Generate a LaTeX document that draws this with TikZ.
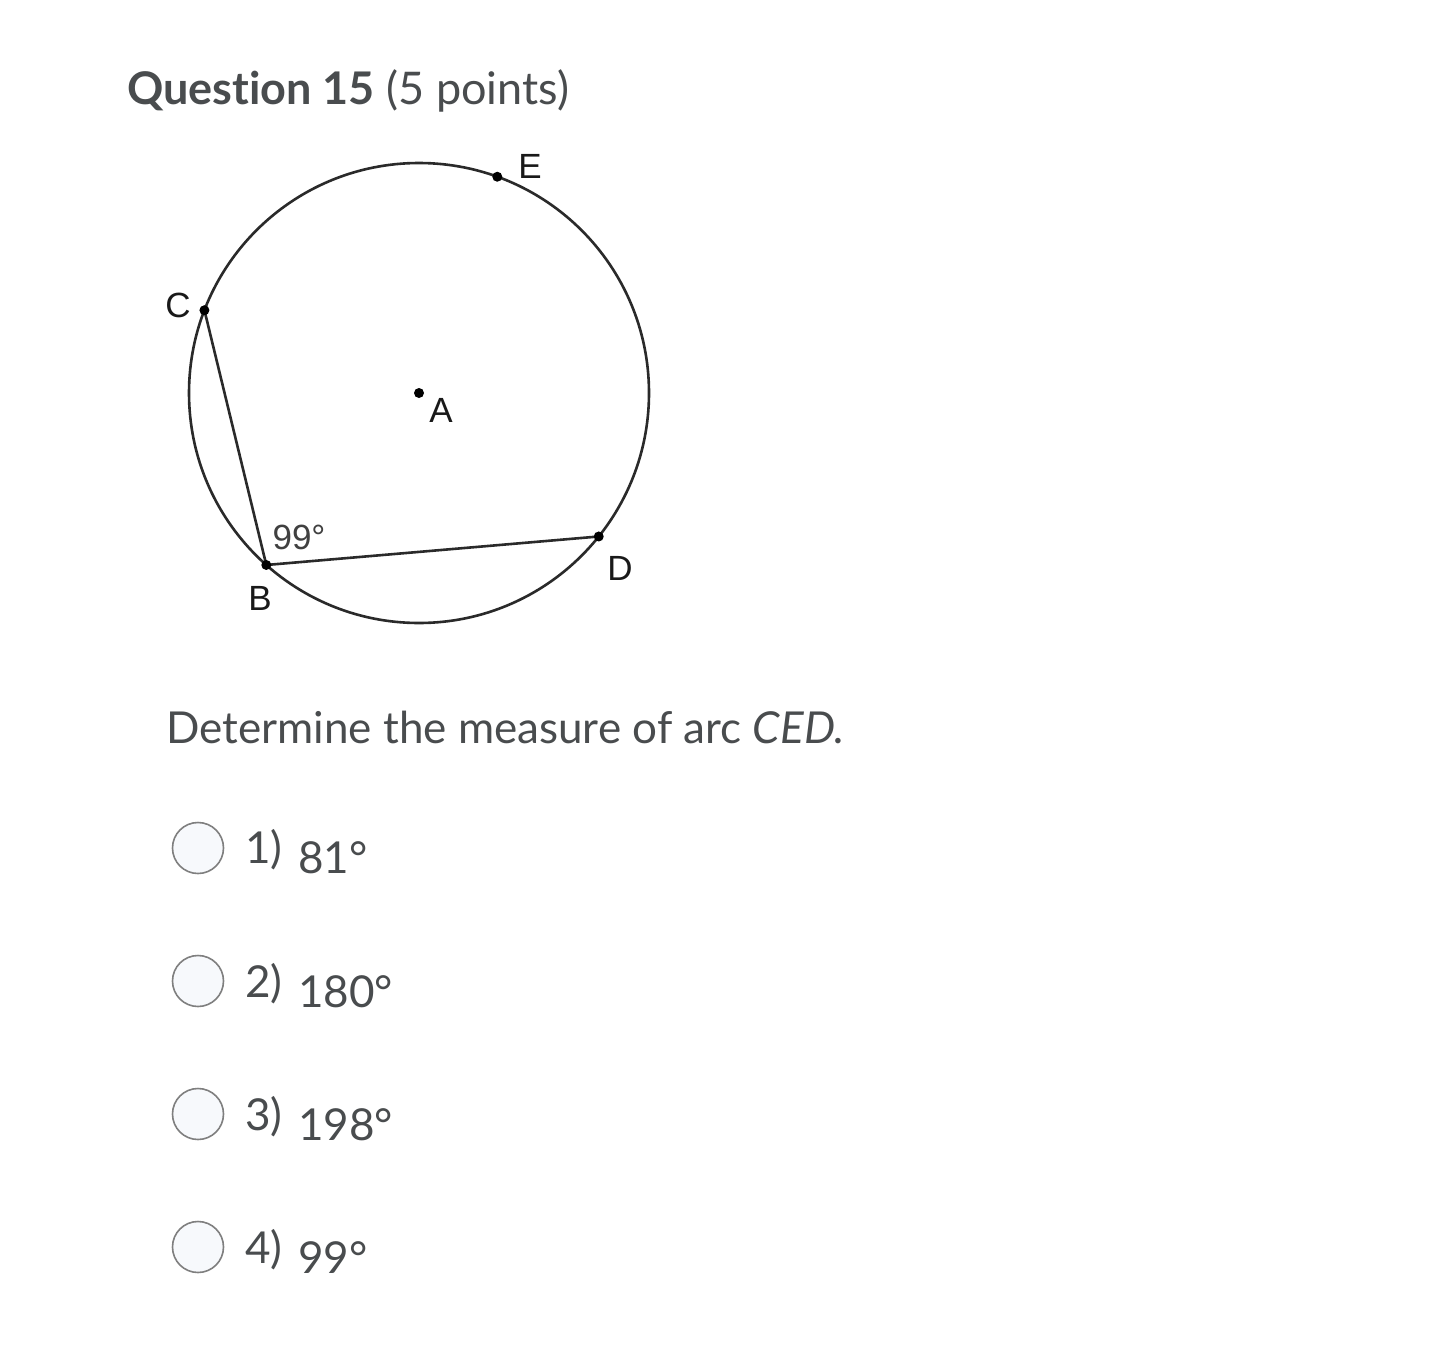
\documentclass[tikz,border=0pt]{standalone}
\usepackage{fontspec}
\setmainfont[Ligatures={NoCommon}]{Lato}
\newfontfamily\labelfont{Liberation Sans}
\definecolor{txt}{HTML}{494C4E}
\definecolor{radioedge}{HTML}{7F7F7F}
\definecolor{radiofill}{HTML}{F7F9FC}
\definecolor{geo}{HTML}{2A2A2A}
\begin{document}
\begin{tikzpicture}[x=1pt,y=-1pt,
  qtext/.style={inner sep=0pt,anchor=base west,text=txt,font=\fontsize{44}{52}\selectfont},
  glabel/.style={inner sep=0pt,anchor=base,text=black!90,font=\labelfont\fontsize{35}{42}\selectfont},
  gdot/.style={circle,fill=black,inner sep=0pt,minimum size=10pt},
  radio/.style={circle,draw=radioedge,fill=radiofill,line width=1.6pt,inner sep=0pt,minimum size=51pt},
  geoline/.style={draw=geo,line width=2.6pt}
]
\useasboundingbox[fill=white] (0,0) rectangle (1442,1346);

% title
\node[qtext,font=\fontsize{45}{54}\selectfont] (title) at (127,104) {\textbf{Question 15} (5 points)};

% geometry
\coordinate (A) at (419,393);
\draw[geoline] (A) circle (230);
\path (A) ++(-70.1:230) coordinate (E);
\path (A) ++(-158.9:230) coordinate (C);
\path (A) ++(-228.4:230) coordinate (B);
\path (A) ++(-321.4:230) coordinate (D);
\draw[geoline] (C) -- (B) -- (D);
\node[gdot] (dA) at (A) {};
\node[gdot] (dE) at (E) {};
\node[gdot] (dC) at (C) {};
\node[gdot] (dB) at (B) {};
\node[gdot] (dD) at (D) {};
\node[glabel] (lE) at (530,178) {E};
\node[glabel] (lC) at (178,317) {C};
\node[glabel] (lA) at (441,422) {A};
\node[glabel,text=black!75] (lang) at (299,549) {99°};
\node[glabel] (lB) at (260,610) {B};
\node[glabel] (lD) at (620,580) {D};

% question
\node[qtext] (q) at (166,743) {Determine the measure of arc \textit{CED.}};

% options
\node[radio] (r1) at (198,848) {};
\node[qtext] (n1) at (245,863) {1)};
\node[qtext] (v1) at (298,873) {81°};
\node[radio] (r2) at (198,981) {};
\node[qtext] (n2) at (245,997) {2)};
\node[qtext] (v2) at (298,1007) {180°};
\node[radio] (r3) at (198,1114) {};
\node[qtext] (n3) at (245,1130) {3)};
\node[qtext] (v3) at (298,1140) {198°};
\node[radio] (r4) at (198,1247) {};
\node[qtext] (n4) at (245,1263) {4)};
\node[qtext] (v4) at (298,1273) {99°};
\end{tikzpicture}
\end{document}
